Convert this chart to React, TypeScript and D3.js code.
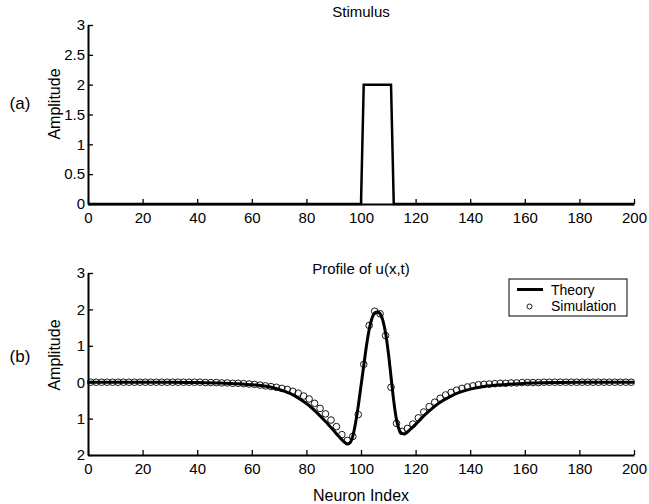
import React, { useEffect, useRef } from 'react';
import * as d3 from 'd3';

// Stimulus (panel a): breakpoints of the square pulse
const stimX = [0, 100, 101, 111, 112, 200];
const stimY = [0, 0, 2, 2, 0, 0];

// Theory curve (panel b)
const theoryX = [0, 10, 20, 30, 40, 50, 56, 62, 66, 70, 74, 78, 81, 84, 87, 90, 92, 94, 95, 96, 97, 98, 99, 100, 101,
    102, 103, 104, 105, 106, 107, 108, 109, 110, 111, 112, 113, 114, 115, 116, 117, 118, 120, 122, 125, 129, 133, 136,
    140, 144, 150, 158, 170, 180, 190, 200];
const theoryY = [0, 0, 0, 0, -0.01, -0.03, -0.05, -0.08, -0.12, -0.2, -0.31, -0.48, -0.64, -0.85, -1.08, -1.33, -1.5,
    -1.65, -1.7, -1.66, -1.48, -1.12, -0.65, -0.1, 0.45, 1.0, 1.45, 1.75, 1.9, 1.93, 1.88, 1.7, 1.35, 0.82, 0.15, -0.52,
    -1.03, -1.31, -1.41, -1.42, -1.37, -1.3, -1.16, -1.0, -0.79, -0.55, -0.38, -0.28, -0.19, -0.13, -0.08, -0.04, -0.01,
    0, 0, 0];

// Simulation markers (every other neuron)
const simX = [1, 3, 5, 7, 9, 11, 13, 15, 17, 19, 21, 23, 25, 27, 29, 31, 33, 35, 37, 39, 41, 43, 45, 47, 49, 51, 53, 55,
    57, 59, 61, 63, 65, 67, 69, 71, 73, 75, 77, 79, 81, 83, 85, 87, 89, 91, 93, 95, 97, 99, 101, 103, 105, 107, 109, 111,
    113, 115, 117, 119, 121, 123, 125, 127, 129, 131, 133, 135, 137, 139, 141, 143, 145, 147, 149, 151, 153, 155, 157,
    159, 161, 163, 165, 167, 169, 171, 173, 175, 177, 179, 181, 183, 185, 187, 189, 191, 193, 195, 197, 199];
const simY = [0, 0, 0, 0, 0, 0, 0, 0, 0, 0, 0, 0, 0, 0, 0, 0, 0, 0, 0, 0, 0,
    -0.01, -0.01, -0.01, -0.02, -0.02, -0.03, -0.03, -0.04, -0.05, -0.06, -0.08, -0.1, -0.12, -0.14, -0.17, -0.2, -0.25,
    -0.3, -0.38, -0.46, -0.58, -0.72, -0.87, -1.04, -1.22, -1.44, -1.6, -1.49, -0.89, 0.49, 1.56, 1.95, 1.88, 1.28, -0.14,
    -1.13, -1.35, -1.27, -1.15, -0.98, -0.82, -0.67, -0.55, -0.44, -0.35, -0.28, -0.22, -0.17, -0.13, -0.1, -0.07, -0.06,
    -0.05, -0.04, -0.03, -0.03, -0.02, -0.02, -0.01, -0.01, -0.01, -0.01,
    0, 0, 0, 0, 0, 0, 0, 0, 0, 0, 0, 0, 0, 0, 0, 0, 0];

const xTicks = [0, 20, 40, 60, 80, 100, 120, 140, 160, 180, 200];
const topYTicks = [0, 0.5, 1, 1.5, 2, 2.5, 3];
const botYTicks = [-2, -1, 0, 1, 2, 3];

const W = 649;
const H = 504;
const FONT = '"Liberation Sans", Arial, Helvetica, sans-serif';

const App = () => {
    const svgRef = useRef<SVGSVGElement | null>(null);

    useEffect(() => {
        if (!svgRef.current) return;
        const svg = d3.select(svgRef.current);
        svg.selectAll('*').remove();

        const x = d3.scaleLinear().domain([0, 200]).range([88, 634]);
        const yTop = d3.scaleLinear().domain([0, 3]).range([204, 25]);
        const yBot = d3.scaleLinear().domain([-2, 3]).range([455, 273]);

        const styleAxis = (g: any) => {
            g.select('.domain').attr('stroke', '#000').attr('stroke-width', 2);
            g.selectAll('.tick line').attr('stroke', '#000').attr('stroke-width', 1.3);
            g.selectAll('.tick text')
                .attr('fill', '#000')
                .attr('font-family', FONT)
                .attr('font-size', 15);
        };

        // --- PANEL AXES ---
        const drawAxes = (y: d3.ScaleLinear<number, number>, ticks: number[], fmt: (d: number) => string) => {
            const y0 = y.range()[0];
            svg.append('g')
                .attr('transform', `translate(0,${y0})`)
                .call(d3.axisBottom(x).tickValues(xTicks).tickSizeInner(-5).tickSizeOuter(0).tickPadding(8)
                    .tickFormat(d => String(d)))
                .call(styleAxis);
            svg.append('g')
                .attr('transform', `translate(${x.range()[0]},0)`)
                .call(d3.axisLeft(y).tickValues(ticks).tickSizeInner(-5).tickSizeOuter(0).tickPadding(3)
                    .tickFormat(d => fmt(d as number)))
                .call(styleAxis);
        };

        drawAxes(yTop, topYTicks, d => String(d));
        drawAxes(yBot, botYTicks, d => String(Math.abs(d)));

        // --- STIMULUS ---
        const stimLine = d3.line<number>()
            .x((d, i) => x(stimX[i]))
            .y(d => yTop(d));
        svg.append('path')
            .datum(stimY)
            .attr('fill', 'none')
            .attr('stroke', '#000')
            .attr('stroke-width', 2.5)
            .attr('stroke-linejoin', 'miter')
            .attr('d', stimLine);

        // --- THEORY ---
        const theoryLine = d3.line<number>()
            .curve(d3.curveMonotoneX)
            .x((d, i) => x(theoryX[i]))
            .y(d => yBot(d));
        svg.append('path')
            .datum(theoryY)
            .attr('fill', 'none')
            .attr('stroke', '#000')
            .attr('stroke-width', 3)
            .attr('d', theoryLine);

        // --- SIMULATION ---
        svg.append('g')
            .selectAll('circle')
            .data(simY)
            .enter()
            .append('circle')
            .attr('cx', (d, i) => x(simX[i]))
            .attr('cy', d => yBot(d))
            .attr('r', 3.3)
            .attr('fill', 'none')
            .attr('stroke', '#000')
            .attr('stroke-width', 0.9);

        // --- TEXT ---
        const text = (tx: number, ty: number, s: string, size: number, anchor = 'middle', rotate = false) => {
            const t = svg.append('text')
                .attr('font-family', FONT)
                .attr('font-size', size)
                .attr('fill', '#000')
                .attr('text-anchor', anchor)
                .text(s);
            if (rotate) t.attr('transform', `translate(${tx},${ty}) rotate(-90)`);
            else t.attr('x', tx).attr('y', ty);
        };

        text(361, 17, 'Stimulus', 15);
        text(361, 274, 'Profile of u(x,t)', 15);
        text(361, 501, 'Neuron Index', 16);
        text(60, 104, 'Amplitude', 16, 'middle', true);
        text(60, 355, 'Amplitude', 16, 'middle', true);
        text(20, 109, '(a)', 17);
        text(20, 362, '(b)', 17);

        // --- LEGEND ---
        const lg = svg.append('g').attr('transform', 'translate(509,279)');
        lg.append('rect')
            .attr('width', 118)
            .attr('height', 37)
            .attr('fill', '#fff')
            .attr('stroke', '#000')
            .attr('stroke-width', 1);
        lg.append('line')
            .attr('x1', 8).attr('x2', 34)
            .attr('y1', 10.5).attr('y2', 10.5)
            .attr('stroke', '#000')
            .attr('stroke-width', 3);
        lg.append('circle')
            .attr('cx', 20.5).attr('cy', 27.5)
            .attr('r', 2.5)
            .attr('fill', 'none')
            .attr('stroke', '#000')
            .attr('stroke-width', 0.9);
        lg.append('text')
            .attr('x', 42).attr('y', 16)
            .attr('font-family', FONT).attr('font-size', 14)
            .text('Theory');
        lg.append('text')
            .attr('x', 42).attr('y', 32)
            .attr('font-family', FONT).attr('font-size', 14)
            .text('Simulation');
    }, []);

    return (
        <svg
            ref={svgRef}
            width={W}
            height={H}
            style={{ position: 'absolute', left: 0, top: 0, background: '#fff' }}
        />
    );
};

export default App;
